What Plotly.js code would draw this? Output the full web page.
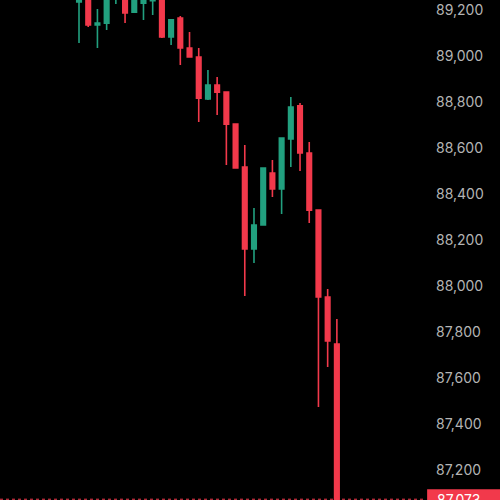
<!DOCTYPE html>
<html>
<head>
<meta charset="utf-8">
<script src="https://cdn.plot.ly/plotly-3.0.1.min.js"></script>
<style>
  html, body { margin: 0; padding: 0; background: #000; }
  #chart { width: 500px; height: 500px; }
</style>
</head>
<body>
<div id="chart"></div>
<script>
// Bar index (time slot) of each candle
const bars = [0,1,2,3,4,5,6,7,8,9,10,11,12,13,14,15,16,17,18,19,20,21,22,23,24,25,26,27,28];
const open  = [89235,89280,89135,89143,89255,89300,89191,89230,89240,89275,89083,89165,89035,88996,88813,88874,88843,88704,88517,88161,88265,88491,88422,88639,88783,88578,88330,87952,87748];
const high  = [89300,89290,89204,89275,89320,89310,89265,89290,89290,89285,89160,89174,89104,89035,88939,88909,88845,88706,88613,88339,88515,88548,88646,88822,88796,88626,88332,87987,87857];
const low   = [89057,89126,89035,89113,89226,89143,89188,89157,89178,89078,89048,88961,88994,88713,88809,88743,88526,88510,87957,88100,88263,88387,88313,88517,88500,88274,87474,87648,87073];
const close = [89280,89135,89143,89260,89300,89187,89250,89270,89275,89083,89157,89035,88996,88817,88874,88843,88704,88513,88161,88265,88513,88422,88643,88778,88578,88330,87952,87761,87073];

const lastPrice = 87073;
const lastPriceText = "87,073";
const tickVals = [87200,87400,87600,87800,88000,88200,88400,88600,88800,89000,89200];
const tickText = ["87,200","87,400","87,600","87,800","88,000","88,200","88,400","88,600","88,800","89,000","89,200"];

const UP = "#22a07f";
const DOWN = "#f2394b";

const trace = {
  type: "candlestick",
  x: bars, open: open, high: high, low: low, close: close,
  increasing: { line: { color: UP, width: 1.6 }, fillcolor: UP },
  decreasing: { line: { color: DOWN, width: 1.6 }, fillcolor: DOWN },
  whiskerwidth: 0,
  hoverinfo: "skip",
  showlegend: false
};

const layout = {
  width: 500, height: 500,
  margin: { l: 0, r: 75, t: 0, b: 0, pad: 0 },
  paper_bgcolor: "#000000",
  plot_bgcolor: "#000000",
  boxgap: 0.3,
  showlegend: false,
  xaxis: {
    range: [-8.58, 37.57],
    showgrid: false, zeroline: false, showline: false,
    showticklabels: false, ticks: "",
    rangeslider: { visible: false },
    fixedrange: true
  },
  yaxis: {
    range: [87069.6, 89243.5],
    side: "right",
    showgrid: false, zeroline: false, showline: false,
    ticks: "",
    tickmode: "array", tickvals: tickVals, ticktext: tickText,
    ticklabelstandoff: 10,
    tickfont: { family: "Inter, 'Noto Sans', sans-serif", size: 14, color: "#b4b4b4" },
    fixedrange: true
  },
  shapes: [
    {
      type: "line", xref: "paper", yref: "y",
      x0: 0, x1: 1, y0: lastPrice, y1: lastPrice,
      line: { color: DOWN, width: 1, dash: "dot" }
    },
    {
      type: "rect", xref: "paper", yref: "y",
      ysizemode: "pixel", yanchor: lastPrice, y0: -10, y1: 10,
      x0: 1.005, x1: 1.25,
      fillcolor: DOWN, line: { width: 0 }
    }
  ],
  annotations: [
    {
      xref: "paper", yref: "y", x: 1, y: lastPrice,
      xanchor: "left", yanchor: "middle", xshift: 10,
      text: lastPriceText, showarrow: false,
      font: { family: "Inter, 'Noto Sans', sans-serif", size: 14, color: "#ffffff" }
    }
  ]
};

Plotly.newPlot("chart", [trace], layout, { displayModeBar: false, staticPlot: true });
</script>
</body>
</html>
